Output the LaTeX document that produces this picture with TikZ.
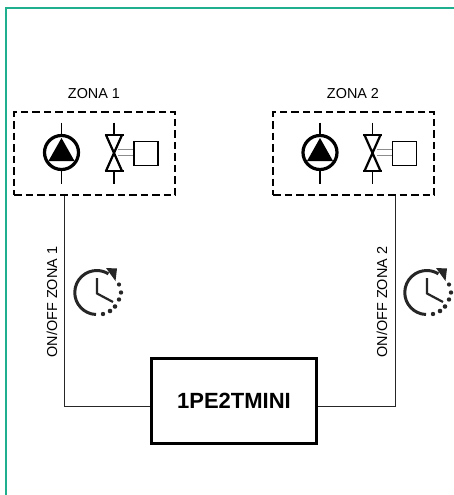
\documentclass[tikz,border=0pt]{standalone}
\usepackage{fontspec}
\setmainfont{Liberation Sans}
\definecolor{frame}{HTML}{1FAF8F}
\tikzset{
  x=1pt,y=-1pt,
  zonebox/.style={draw,line width=2pt,dash pattern=on 7.5pt off 4pt,minimum width=161pt,minimum height=83pt,inner sep=0pt},
  wire/.style={line width=1pt,black!85},
  lbl/.style={font=\fontsize{14.4}{16}\selectfont,inner sep=0pt},
  pics/pump/.style={code={
    \draw[line width=1.6pt] (0,-30) -- (0,31);
    \draw[line width=3.2pt,fill=white] (0,0) circle[radius=17pt];
    \fill (0,-14.5) -- (13,8.5) -- (-13,8.5) -- cycle;
  }},
  pics/valve/.style={code={
    \draw[line width=1.6pt] (0,-30) -- (0,-18) (0,18.5) -- (0,31);
    \draw[line width=2.2pt] (-8,-17.5) -- (8,18.5) (8,-17.5) -- (-8,18.5);
    \draw[line width=2.8pt] (-9.5,-17.5) -- (9.5,-17.5) (-9.5,18.5) -- (9.5,18.5);
    \draw[black!45,line width=1pt] (4,-3) -- (20,-3) (4,3) -- (20,3);
    \draw[line width=1.6pt,fill=white] (20,-11) rectangle (44,13);
  }},
  pics/clock/.style={code={
    \draw[line width=3pt,black!85] (-1,22) arc[start angle=268,end angle=58,radius=22pt];
    \fill[black!85] (9,-24.5) -- (20,-24) -- (18.5,-11.5) -- cycle;
    \draw[line width=2.2pt,black!85] (0,-14.5) -- (0,1) -- (16,9.5);
    \foreach \a/\b/\r in {22/-8/2.1,24/0/2.2,22/7/2.2,18/14/2.3,13/18.5/2.3,6/21.5/2.2}
      \fill[black!85] (\a,\b) circle[radius=\r pt];
  }}
}
\begin{document}
\begin{tikzpicture}
\useasboundingbox (0,0) rectangle (454,495);
\fill[white] (0,0) rectangle (454,495);
\draw[frame,line width=1.8pt] (6,495) -- (6,8) -- (454,8);

\node[zonebox] (zone1) at (94.5,153.5) {};
\node[zonebox] (zone2) at (353.5,153.5) {};
\node[lbl] (z1) at (94,93.5) {ZONA 1};
\node[lbl] (z2) at (353,93.5) {ZONA 2};

\pic at (61.5,152.5) {pump};
\pic at (114,152.5) {valve};
\pic at (320,152.5) {pump};
\pic at (372.5,152.5) {valve};

\node[draw,line width=3pt,minimum width=165pt,minimum height=85pt,inner sep=0pt,font=\bfseries\fontsize{22}{24}\selectfont] (ctrl) at (234,401) {1PE2TMINI};

\coordinate (w1) at (64,406.5);
\coordinate (w2) at (395.5,406.5);
\draw[wire] (w1 |- zone1.south) -- (w1) -- (w1 -| ctrl.west);
\draw[wire] (w2 |- zone2.south) -- (w2) -- (w2 -| ctrl.east);

\node[lbl,rotate=90] (t1) at (52,302) {ON/OFF ZONA 1};
\node[lbl,rotate=90] (t2) at (382,302) {ON/OFF ZONA 2};

\pic at (97,292.5) {clock};
\pic at (427,292.5) {clock};
\end{tikzpicture}
\end{document}
